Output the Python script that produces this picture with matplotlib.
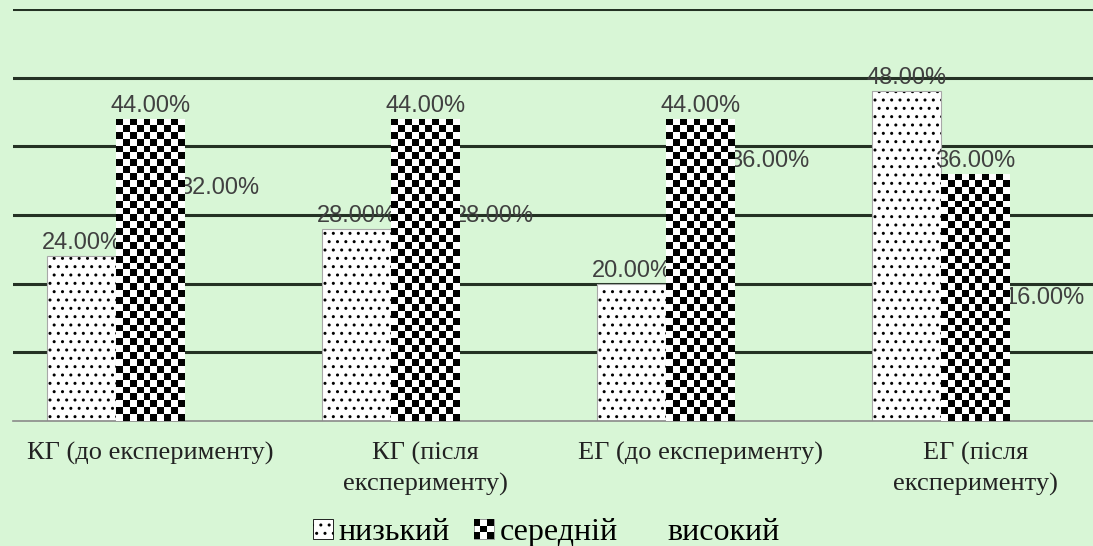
import numpy as np
import matplotlib
matplotlib.use("Agg")
import matplotlib.pyplot as plt
from matplotlib.patches import Patch, Rectangle
from matplotlib.legend_handler import HandlerBase

# data (percent)
groups = ["КГ (до експерименту)", "КГ (після\nексперименту)",
          "ЕГ (до експерименту)", "ЕГ (після\nексперименту)"]
series = ["низький", "середній", "високий"]
low = [24, 28, 20, 48]
mid = [44, 44, 44, 36]
high = [32, 28, 36, 16]

bg = "#d8f6d6"
grid_c = "#243224"
lab_c = "#404040"

fig = plt.figure(figsize=(10.93, 5.46), dpi=100, facecolor=bg)
ax = fig.add_axes([13 / 1093, 125 / 546, 1100 / 1093, 412 / 546])
ax.set_facecolor(bg)
ax.set_xlim(-0.5, 3.5)
ax.set_ylim(0, 60)

for yv in range(10, 61, 10):
    ax.axhline(yv, color=grid_c, lw=2.2, zorder=1)
for s in ["top", "left", "right"]:
    ax.spines[s].set_visible(False)
ax.spines["bottom"].set_color("#8a8a8a")
ax.spines["bottom"].set_linewidth(1.2)
ax.set_yticks([])

x = np.arange(len(groups))
w = 0.25

# low: dotted
ax.bar(x - w, low, w, color="white", edgecolor="black", hatch="..", lw=0, zorder=2)
ax.bar(x - w, low, w, fill=False, edgecolor="#a8a8a8", lw=0.8, zorder=2.1)

# high: no visible fill
hb = ax.bar(x + w, high, w, fill=False, lw=0, zorder=2)

# mid: checkerboard drawn as image clipped to each bar
mb = ax.bar(x, mid, w, color="white", lw=0, zorder=4)
fig.canvas.draw()
py = ax.transData.transform([(0, 0), (0, 1)])
px_per_y = py[1, 1] - py[0, 1]
cell = 6.9
for r in mb:
    hpx = r.get_height() * px_per_y
    nrows = int(round(hpx / cell))
    ncols = 10
    ii, jj = np.indices((nrows, ncols))
    img = (ii + jj) % 2
    im = ax.imshow(img, cmap="gray", vmin=0, vmax=1, interpolation="nearest",
                   extent=(r.get_x(), r.get_x() + r.get_width(), 0, r.get_height()),
                   aspect="auto", zorder=4.1)
    im.set_clip_path(r)
ax.set_xlim(-0.5, 3.5)
ax.set_ylim(0, 60)

# value labels
for xs, vals in [(x - w, low), (x + w, high)]:
    for xi, v in zip(xs, vals):
        ax.annotate(f"{v:.2f}%", (xi, v), xytext=(0, 1.5), textcoords="offset points",
                    ha="center", va="bottom", fontsize=17, color=lab_c,
                    family="Liberation Sans", zorder=3)
for xi, v in zip(x, mid):
    ax.annotate(f"{v:.2f}%", (xi, v), xytext=(0, 1.5), textcoords="offset points",
                ha="center", va="bottom", fontsize=17, color=lab_c,
                family="Liberation Sans", zorder=5)

ax.set_xticks(x)
ax.set_xticklabels(groups, family="Liberation Serif", fontsize=19, color="#222222",
                   linespacing=1.45)
ax.tick_params(axis="x", length=0, pad=15)


class CheckerHandler(HandlerBase):
    def create_artists(self, legend, orig_handle, xdescent, ydescent, width, height,
                       fontsize, trans):
        s = height
        x0 = -xdescent + (width - s) / 2
        y0 = -ydescent
        arts = [Rectangle((x0, y0), s, s, facecolor="white", edgecolor="#888888",
                          lw=0.6, transform=trans)]
        n = 3
        c = s / n
        for i in range(n):
            for j in range(n):
                if (i + j) % 2 == 0:
                    arts.append(Rectangle((x0 + j * c, y0 + i * c), c, c,
                                          facecolor="black", lw=0, transform=trans))
        return arts


h_low = Patch(facecolor="white", edgecolor="black", hatch="..", lw=0.6)
h_mid = Patch(facecolor="white")
h_high = Patch(facecolor=bg, edgecolor=bg)
fig.legend([h_low, h_mid, h_high], series, loc="lower center", bbox_to_anchor=(0.5, -0.055),
           ncol=3, frameon=False, handler_map={h_mid: CheckerHandler()},
           prop={"family": "Liberation Serif", "size": 23},
           handlelength=0.6, handleheight=0.6, handletextpad=0.2, columnspacing=0.75)

fig.savefig("out.png", dpi=100, facecolor=bg)
